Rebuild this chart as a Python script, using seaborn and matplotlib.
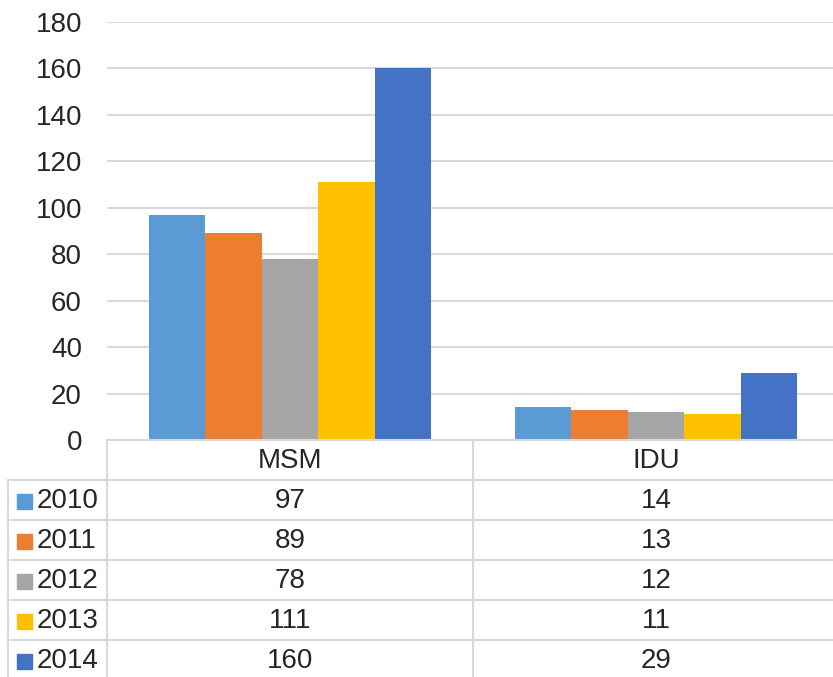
import matplotlib
matplotlib.use("Agg")
import matplotlib.pyplot as plt
import pandas as pd
import seaborn as sns
from matplotlib.lines import Line2D
from matplotlib.patches import Rectangle

groups = ["MSM", "IDU"]
years = ["2010", "2011", "2012", "2013", "2014"]
msm = [97, 89, 78, 111, 160]
idu = [14, 13, 12, 11, 29]
colors = ["#5B9BD5", "#ED7D31", "#A5A5A5", "#FFC000", "#4472C4"]

series = [msm, idu]
df = pd.DataFrame({
    "group": [g for _ in years for g in groups],
    "year": [y for y in years for _ in groups],
    "value": [v for pair in zip(msm, idu) for v in pair],
})

W, H = 833, 677
GRID = "#D9D9D9"
sns.set_style("white")
plt.rcParams["font.family"] = ["Liberation Sans", "DejaVu Sans"]

fig = plt.figure(figsize=(W / 100, H / 100), dpi=100)
# plot area in pixels; runs a little past the right edge like the original
x0, x1, ytop, ybot = 107, 839, 22, 440
ax = fig.add_axes([x0 / W, 1 - ybot / H, (x1 - x0) / W, (ybot - ytop) / H])

sns.barplot(data=df, x="group", y="value", hue="year", hue_order=years,
            order=groups, palette=colors, width=0.77, linewidth=0,
            saturation=1, legend=False, ax=ax)

ax.set_ylim(0, 180)
ax.set_xlim(-0.5, 1.5)
ax.set_yticks(range(0, 181, 20))
ax.yaxis.grid(True, color=GRID, linewidth=1.5)
ax.set_axisbelow(True)
ax.tick_params(axis="y", length=0, pad=18, labelsize=20)
ax.set_xticks([])
ax.set_xlabel("")
ax.set_ylabel("")
for s in ax.spines.values():
    s.set_visible(False)


# data table under the chart, drawn in figure pixels
def hline(xa, xb, y):
    fig.add_artist(Line2D([xa / W, xb / W], [1 - y / H, 1 - y / H],
                          color=GRID, linewidth=1.5, transform=fig.transFigure))


def vline(x, ya, yb):
    fig.add_artist(Line2D([x / W, x / W], [1 - ya / H, 1 - yb / H],
                          color=GRID, linewidth=1.5, transform=fig.transFigure))


col_w = (x1 - x0) / len(groups)
row_h = 40
hline(x0, W, ybot)
for i in range(len(years)):
    hline(8, W, ybot + row_h * (i + 1))
vline(8, ybot + row_h, H)
for j in range(len(groups)):
    vline(x0 + col_w * j, ybot, H)

for j, g in enumerate(groups):
    fig.text((x0 + col_w * (j + 0.5)) / W, 1 - (ybot + row_h / 2 + 1) / H, g,
             ha="center", va="center", fontsize=20)

for i, y in enumerate(years):
    cy = ybot + row_h * (i + 1.5) + 1
    fig.add_artist(Rectangle((17 / W, 1 - (cy + 7.5) / H), 15 / W, 15 / H,
                             color=colors[i], transform=fig.transFigure))
    fig.text(37 / W, 1 - cy / H, y, ha="left", va="center", fontsize=20)
    for j in range(len(groups)):
        fig.text((x0 + col_w * (j + 0.5)) / W, 1 - cy / H, str(series[j][i]),
                 ha="center", va="center", fontsize=20)

fig.savefig("out.png", dpi=100)
